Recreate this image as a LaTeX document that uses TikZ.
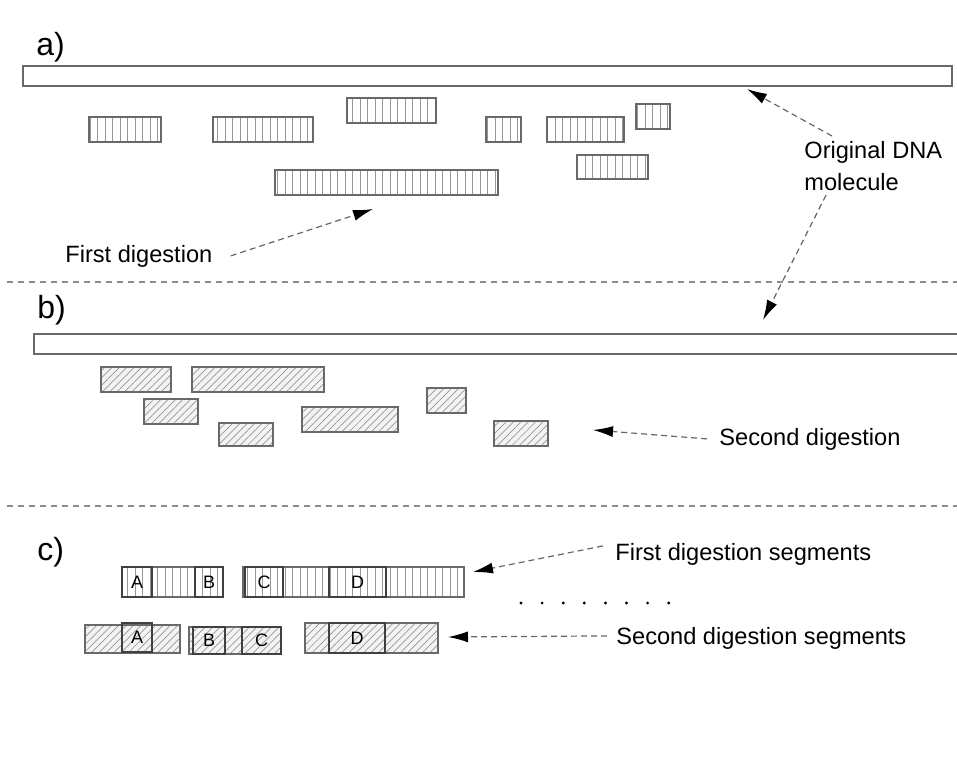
\documentclass[tikz,border=0pt]{standalone}
\usepackage{fontspec}
\setmainfont{Liberation Sans}
\definecolor{edge}{RGB}{105,105,105}
\definecolor{soft}{RGB}{150,150,150}
\definecolor{shade}{RGB}{243,243,243}
\usetikzlibrary{arrows.meta,patterns.meta}

\begin{document}
\begin{tikzpicture}[x=0.5pt,y=-0.5pt,
    bar/.style={draw=edge,line width=0.8pt,fill=white},
    cut/.style={draw=edge,line width=0.8pt,pattern={Lines[angle=90,distance=3.75pt,line width=0.4pt]},pattern color=soft},
    hatch/.style={draw=edge,line width=0.8pt,preaction={fill=shade},pattern={Lines[angle=45,distance=2.6pt,line width=0.35pt]},pattern color=soft},
    seg/.style={draw=black!75,line width=0.9pt,minimum height=15pt,inner sep=0pt,font=\fontsize{9}{10}\selectfont},
    lbl/.style={inner sep=0pt,font=\fontsize{11.8}{16}\selectfont},
    part/.style={inner sep=0pt,font=\fontsize{16}{18}\selectfont},
    pointer/.style={draw=black!60,dash pattern=on 3pt off 2pt,line width=0.6pt,-{Latex[length=10pt,width=5.5pt,black]}},
    sep/.style={draw=black!45,dash pattern=on 3pt off 2.5pt,line width=0.6pt}]
  \useasboundingbox (0,0) rectangle (957,781);

  % a) first digestion
  \node[part,anchor=base west] (parta) at (36,56) {a)};
  \draw[bar] (23,66) rectangle (952,86);
  \draw[cut] (89,117) rectangle (161,142);
  \draw[cut] (213,117) rectangle (313,142);
  \draw[cut] (347,98) rectangle (436,123);
  \draw[cut] (275,170) rectangle (498,195);
  \draw[cut] (486,117) rectangle (521,142);
  \draw[cut] (547,117) rectangle (624,142);
  \draw[cut] (636,104) rectangle (670,129);
  \draw[cut] (577,155) rectangle (648,179);
  \node[lbl,anchor=base west] (first) at (65,262) {First digestion};
  \node[lbl,anchor=north west,align=left] (dna) at (804,141) {Original DNA\\molecule};
  \coordinate (tipa) at (373,209);
  \coordinate (tipdna) at (747,89);
  \coordinate (tipb) at (763,320);
  \draw[pointer] ([xshift=9pt]first.east) -- (tipa);
  \draw[pointer] ([xshift=14pt,yshift=2.5pt]dna.north west) -- (tipdna);
  \draw[pointer] ([xshift=11pt,yshift=-2pt]dna.south west) -- (tipb);

  \draw[sep] (7,282) -- (957,282);

  % b) second digestion
  \node[part,anchor=base west] (partb) at (37,318) {b)};
  \draw[bar] (962,334) -- (34,334) -- (34,354) -- (962,354);
  \draw[hatch] (101,367) rectangle (171,392);
  \draw[hatch] (192,367) rectangle (324,392);
  \draw[hatch] (144,399) rectangle (198,424);
  \draw[hatch] (219,423) rectangle (273,446);
  \draw[hatch] (302,407) rectangle (398,432);
  \draw[hatch] (427,388) rectangle (466,413);
  \draw[hatch] (494,421) rectangle (548,446);
  \node[lbl,anchor=base west] (second) at (719,445) {Second digestion};
  \coordinate (tipsecond) at (593,430);
  \draw[pointer] ([xshift=-6pt]second.west) -- (tipsecond);

  \draw[sep] (7,506) -- (957,506);

  % c) matching segments
  \node[part,anchor=base west] (partc) at (37,560) {c)};
  \draw[cut] (122,567) rectangle (223,597);
  \draw[cut] (243,567) rectangle (464,597);
  \node[seg,minimum width=15pt] (a1) at (137,582) {A};
  \node[seg,minimum width=14pt] (b1) at (209,582) {B};
  \node[seg,minimum width=19pt] (c1) at (264,582) {C};
  \node[seg,minimum width=28.5pt] (d1) at (357.5,582) {D};
  \draw[hatch] (85,625) rectangle (180,653);
  \draw[hatch] (189,627) rectangle (281,654);
  \draw[hatch] (305,623) rectangle (438,653);
  \node[seg,minimum width=15pt,minimum height=14.5pt] (a2) at (137,637.5) {A};
  \node[seg,minimum width=16pt,minimum height=13.5pt] (b2) at (209,640.5) {B};
  \node[seg,minimum width=19.5pt,minimum height=13.5pt] (c2) at (261.5,640.5) {C};
  \node[seg,minimum width=28pt] (d2) at (357,638) {D};
  \foreach \i in {0,...,7}
    \fill (521+21.1*\i,603) circle[radius=0.8pt];
  \node[lbl,anchor=base west] (firstseg) at (615,560) {First digestion segments};
  \node[lbl,anchor=base west] (secondseg) at (616,644) {Second digestion segments};
  \coordinate (tipfirstseg) at (473,572);
  \coordinate (tipsecondseg) at (448,637);
  \draw[pointer] ([xshift=-6pt,yshift=4pt]firstseg.west) -- (tipfirstseg);
  \draw[pointer] ([xshift=-4.5pt,yshift=1pt]secondseg.west) -- (tipsecondseg);
\end{tikzpicture}
\end{document}
